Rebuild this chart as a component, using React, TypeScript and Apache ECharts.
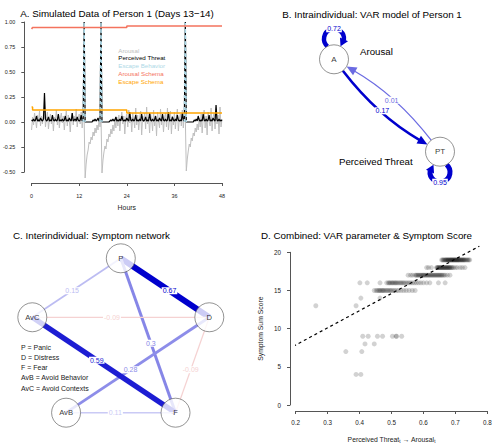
import React, { useEffect, useRef } from "react";
import * as echarts from "echarts";

const FONT = "'Liberation Sans', Arial, Helvetica, sans-serif";

// ---------- Panel A: simulated series, sampled every 15 minutes (values x100) ----------
const sampleStepHours = 0.25;
const arousalCenti = [
  -8, 5, -3, 9, 2, -6, 7, 0, 11, -4, 6, -2, 8,
  12,
  -5, 4, 10, -7, 3, 8, -2, 6, -9, 5, 1, 12, -3, 7, -6, 4, 9,
  -1, 6, -8, 3, 11, -4, 7, 2, -10, 5, 9, -3, 6, 0, 13, -5, 4, 8, -2, 10, -6, 5,
  3,
  -56, -42, -33, -28, -20, -22, -15, -18, -10, -14, -6, -11, -3, -8, 2, -5,
  4,
  -51, -38, -30, -24, -27, -17, -20, -12, -15, -7, -12, -3, -9, 3, -6, 5,
  -4, 7, -9, 3, 10, -2, 6, -12, 4, 8, -5, 12, -1, 5,
  -10, 9, 2, -6, 14, -3, 7, -8, 4, 11, -13, 6, 0, 9, -7, 15, -2, 5, -11, 8,
  3, -9, 12, -4, 6, -14, 10, 1, -6, 13, -3, 7, -10, 4, 9, -5, 14, -8, 2, 11,
  -12, 6, -3, 10, -7, 5, 13, -9, 3, 8, -4, 12, -6, 9,
  5, -49, -37, -29, -22, -25, -16, -19, -11, -14, -6, -10, -2, -8, 4, -5,
  8, -11, 3, 12, -6, 6, -13, 10, 1, -4, 14, -9, 5, 9, -7, 11, -2, 7, -12, 15, -5, 3,
];
const threatCenti = [
  2, 1, 3, 1, 2, 6, 1, 2, 1, 4, 2, 1, 3,
  29,
  3, 1, 2, 5, 1, 2, 1, 7, 2, 1, 3, 1, 2, 8, 1, 2, 1,
  3, 1, 2, 6, 1, 2, 1, 4, 2, 1, 9, 1, 2, 3, 1, 5, 2, 1, 2, 7, 1, 3,
  100,
  0, 0, 0, 0, 0, 0, 0, 0,
  2, 1, 3, 1, 2, 4, 1, 2,
  100,
  0, 0, 0, 0, 0, 0, 0, 0,
  1, 2, 1, 3, 1, 2, 5, 1,
  2, 1, 3, 1, 6, 2, 1, 2, 1, 4, 2, 1, 10, 2,
  1, 3, 1, 2, 7, 1, 2, 1, 3, 1, 8, 2, 1, 2, 5, 1, 2, 1, 9, 2,
  1, 3, 1, 2, 6, 1, 2, 1, 4, 2, 1, 8, 2, 1, 3, 1, 2, 10, 1, 2,
  1, 5, 2, 1, 3, 1, 7, 2, 1, 2, 1, 9, 2, 1,
  100,
  0, 0, 0, 0, 0, 0, 0, 0,
  2, 1, 3, 1, 6, 2, 1, 2, 1, 8, 2, 1, 3, 1, 2, 7, 1, 2, 1, 4, 2, 1, 17, 2, 1, 3, 1, 2, 1,
];
const escapeTimes = [13, 13.25, 13.5, 13.5, 17.25, 17.5, 17.75, 17.75, 38.5, 38.75, 39];
const escapeValues = [0, 1, 0, null, 0, 1, 0, null, 0, 1, 0];
const arousalSchemaTimes = [0, 0.25, 24, 24, 48];
const arousalSchemaValues = [0.93, 0.945, 0.945, 0.96, 0.96];
const escapeSchemaTimes = [0, 0.25, 0.25, 24, 24, 48];
const escapeSchemaValues = [0.15, 0.15, 0.12, 0.12, 0.09, 0.09];
const seriesANames = ["Arousal", "Perceived Threat", "Escape Behavior", "Arousal Schema", "Escape Schema"];

// ---------- Panel B: VAR network ----------
const varNodes = ["A", "PT"];
const varNodeNames = ["Arousal", "Perceived Threat"];
const varLayoutX = [-1, 1];
const varLayoutY = [1, -1];
const varFrom = [0, 1, 0, 1];
const varTo = [1, 0, 0, 1];
const varWeights = [0.17, 0.01, 0.72, 0.95];

// ---------- Panel C: symptom network ----------
const symNodes = ["P", "D", "F", "AvB", "AvC"];
const symLayoutX = [0, 0.951, 0.588, -0.588, -0.951];
const symLayoutY = [1, 0.309, -0.809, -0.809, 0.309];
const symFrom = [0, 0, 0, 1, 1, 1, 2, 2];
const symTo = [1, 2, 4, 4, 3, 2, 4, 3];
const symWeights = [0.67, 0.3, 0.15, -0.09, 0.28, -0.09, 0.59, 0.11];
const symLegend = ["P = Panic", "D = Distress", "F = Fear", "AvB = Avoid Behavior", "AvC = Avoid Contexts"];

// ---------- Panel D: VAR parameter vs symptom score ----------
const scoreLevels = [19, 18, 17, 16, 15, 14, 13, 9, 8, 7, 4];
const varParamsByScore = [
  [0.657, 0.66, 0.662, 0.665, 0.667, 0.67, 0.671, 0.673, 0.675, 0.677, 0.678, 0.68, 0.682, 0.684, 0.685, 0.687, 0.689, 0.69, 0.692, 0.694, 0.695, 0.697, 0.699, 0.7, 0.702, 0.704, 0.705, 0.707, 0.709, 0.71, 0.712, 0.714, 0.716, 0.718, 0.72, 0.722, 0.724, 0.726, 0.728, 0.73, 0.733, 0.736, 0.739, 0.742, 0.745],
  [0.61, 0.616, 0.625, 0.641, 0.643, 0.645, 0.647, 0.649, 0.651, 0.653, 0.655, 0.657, 0.659, 0.661, 0.663, 0.665, 0.667, 0.669, 0.671, 0.673, 0.675, 0.677, 0.679, 0.681, 0.683, 0.685, 0.688, 0.691, 0.694, 0.7, 0.706, 0.715, 0.722, 0.73],
  [0.552, 0.56, 0.566, 0.574, 0.577, 0.58, 0.583, 0.586, 0.589, 0.592, 0.595, 0.598, 0.6, 0.603, 0.606, 0.609, 0.612, 0.615, 0.618, 0.621, 0.624, 0.627, 0.63, 0.633, 0.636, 0.639, 0.642, 0.645, 0.648, 0.651, 0.654, 0.657, 0.66, 0.664, 0.668, 0.675, 0.683],
  [0.401, 0.424, 0.464, 0.485, 0.49, 0.493, 0.496, 0.5, 0.503, 0.506, 0.51, 0.513, 0.516, 0.52, 0.524, 0.528, 0.532, 0.536, 0.54, 0.545, 0.55, 0.555, 0.56, 0.566, 0.572, 0.578, 0.585, 0.592, 0.6, 0.61, 0.62, 0.647, 0.668],
  [0.446, 0.452, 0.456, 0.46, 0.463, 0.466, 0.47, 0.473, 0.476, 0.48, 0.484, 0.488, 0.492, 0.496, 0.5, 0.505, 0.51, 0.516, 0.522, 0.53, 0.538, 0.546, 0.555, 0.565, 0.574],
  [0.404, 0.464],
  [0.263, 0.389],
  [0.41, 0.427, 0.456, 0.472, 0.503, 0.514, 0.516, 0.532],
  [0.417, 0.446],
  [0.357, 0.407],
  [0.389, 0.404],
];
const regIntercept = 3.36;
const regSlope = 22.5;
const plotRegionX = [0.176, 0.824];
const plotRegionY = [-0.8, 20.8];

// ---------- styling helpers ----------
const AX = "#555";
const TXT = "#222";
const POS = [0, 0, 205];
const NEG = [200, 0, 0];
const blend = (rgb: number[], a: number) =>
  `rgb(${rgb.map((c) => Math.round(255 - a * (255 - c))).join(",")})`;
const symEdgeColor = (w: number) => blend(w >= 0 ? POS : NEG, Math.min(1, 0.05 + (Math.abs(w) / 0.67) * 0.95));
const symEdgeWidth = (w: number) => 0.5 + (Math.abs(w) / 0.67) * 5.5;
const varEdgeColor = (w: number) => blend(POS, Math.min(1, 0.55 + Math.abs(w) * 3));
const varEdgeWidth = (w: number) => 0.8 + 4.3 * Math.sqrt(Math.abs(w));
const NODE_R = 14.5;

const toward = (a: number[], b: number[], dist: number) => {
  const dx = b[0] - a[0], dy = b[1] - a[1];
  const L = Math.hypot(dx, dy) || 1;
  return [a[0] + (dx / L) * dist, a[1] + (dy / L) * dist];
};

const edgeLabel = (text: string, x: number, y: number, color: string) => ({
  type: "text",
  x,
  y,
  z2: 10,
  style: {
    text,
    fill: color,
    fontSize: 7,
    fontFamily: FONT,
    align: "center",
    verticalAlign: "middle",
    backgroundColor: "#fff",
    padding: [0, 1],
  },
});

function renderVarEdge(params: any, api: any) {
  const p1 = api.coord([api.value(0), api.value(1)]);
  const p2 = api.coord([api.value(2), api.value(3)]);
  const w = api.value(4);
  const color = varEdgeColor(w);
  const lw = varEdgeWidth(w);
  const arrowLen = 10, arrowHalf = 4.5;
  const arrow = (tip: number[], basePt: number[]) => {
    const dx = tip[0] - basePt[0], dy = tip[1] - basePt[1];
    const L = Math.hypot(dx, dy) || 1;
    const n = [-dy / L, dx / L];
    return {
      type: "polygon",
      z2: 2,
      shape: {
        points: [tip, [basePt[0] + n[0] * arrowHalf, basePt[1] + n[1] * arrowHalf], [basePt[0] - n[0] * arrowHalf, basePt[1] - n[1] * arrowHalf]],
      },
      style: { fill: color },
    };
  };
  if (Math.abs(p1[0] - p2[0]) < 0.01 && Math.abs(p1[1] - p2[1]) < 0.01) {
    const up = api.value(1) > 0 ? 1 : -1;
    const r = 10, d = NODE_R + 6;
    const cx = p1[0], cy = p1[1] - up * d;
    const base = up > 0 ? Math.PI / 2 : -Math.PI / 2;
    const phi = Math.acos((d * d + r * r - NODE_R * NODE_R) / (2 * d * r));
    const start = base + phi;
    const end = base - phi + 2 * Math.PI;
    const baseAng = end - 0.8;
    const tip = [cx + r * Math.cos(end), cy + r * Math.sin(end)];
    const basePt = [cx + r * Math.cos(baseAng), cy + r * Math.sin(baseAng)];
    return {
      type: "group",
      children: [
        {
          type: "arc",
          shape: { cx, cy, r, startAngle: start, endAngle: baseAng + 0.1, clockwise: true },
          style: { stroke: color, lineWidth: lw, fill: "none" },
        },
        arrow(tip, basePt),
        edgeLabel(String(w), cx, cy - up * r, color),
      ],
    };
  }
  const c = -0.1;
  const cp = [(p1[0] + p2[0]) / 2 - (p1[1] - p2[1]) * c, (p1[1] + p2[1]) / 2 - (p2[0] - p1[0]) * c];
  const s = toward(p1, cp, NODE_R);
  const tip = toward(p2, cp, NODE_R);
  const basePt = toward(tip, cp, arrowLen);
  const mx = 0.25 * p1[0] + 0.5 * cp[0] + 0.25 * p2[0];
  const my = 0.25 * p1[1] + 0.5 * cp[1] + 0.25 * p2[1];
  return {
    type: "group",
    children: [
      {
        type: "bezierCurve",
        shape: { x1: s[0], y1: s[1], x2: basePt[0] + (tip[0] - basePt[0]) * 0.2, y2: basePt[1] + (tip[1] - basePt[1]) * 0.2, cpx1: cp[0], cpy1: cp[1] },
        style: { stroke: color, lineWidth: lw, fill: "none" },
      },
      arrow(tip, basePt),
      edgeLabel(String(w), mx, my, color),
    ],
  };
}

function renderSymEdge(params: any, api: any) {
  const p1 = api.coord([api.value(0), api.value(1)]);
  const p2 = api.coord([api.value(2), api.value(3)]);
  const w = api.value(4);
  const color = symEdgeColor(w);
  const t = 0.55;
  return {
    type: "group",
    children: [
      {
        type: "line",
        z2: 1,
        shape: { x1: p1[0], y1: p1[1], x2: p2[0], y2: p2[1] },
        style: { stroke: color, lineWidth: symEdgeWidth(w) },
      },
      edgeLabel(String(w), p1[0] + (p2[0] - p1[0]) * t, p1[1] + (p2[1] - p1[1]) * t, color),
    ],
  };
}

const txt = (text: string, x: number, y: number, size: number, color = "#000", align = "left") => ({
  type: "text",
  x,
  y,
  silent: true,
  style: { text, fill: color, fontSize: size, fontFamily: FONT, align, verticalAlign: "middle" },
});

const visibleAxisCommon = (fontSize: number, margin: number) => ({
  axisLine: { show: true, onZero: false, lineStyle: { color: AX, width: 1 } },
  axisTick: { show: true, length: 3, lineStyle: { color: AX, width: 1 } },
  axisLabel: { fontSize, color: TXT, margin, fontFamily: FONT },
  splitLine: { show: false },
});

function buildOption() {
  const tA = arousalCenti.map((_, i) => i * sampleStepHours);
  const aColors = ["#bebebe", "#000000", "#add8e6", "#f4735e", "#ffa500"];

  const nodeStyle = {
    symbol: "circle",
    symbolSize: NODE_R * 2,
    itemStyle: { color: "#fff", borderColor: "#555", borderWidth: 0.8 },
    label: { show: true, position: "inside", formatter: "{b}", color: "#000", fontSize: 8, fontFamily: FONT },
    silent: true,
    clip: false,
    z: 3,
  };

  const scatterD: number[][] = [];
  scoreLevels.forEach((score, k) => varParamsByScore[k].forEach((x) => scatterD.push([x, score])));
  const regXEnd = Math.min(plotRegionX[1], (plotRegionY[1] - regIntercept) / regSlope);
  const regXStart = plotRegionX[0];

  return {
    animation: false,
    backgroundColor: "#fff",
    textStyle: { fontFamily: FONT },
    grid: [
      { left: 30, top: 22, width: 192, height: 150 },
      { left: 334, top: 59.3, width: 106, height: 92.4 },
      { left: 32.3, top: 258.3, width: 177, height: 154.4 },
      { left: 295.7, top: 252.3, width: 191.6, height: 155 },
    ],
    xAxis: [
      {
        gridIndex: 0, type: "value", min: 0, max: 48, interval: 12, offset: 11,
        ...visibleAxisCommon(5.4, 10),
        name: "Hours", nameLocation: "middle", nameGap: 20.5,
        nameTextStyle: { fontSize: 6.9, color: TXT, fontFamily: FONT },
      },
      { gridIndex: 1, type: "value", min: -1, max: 1, show: false },
      { gridIndex: 2, type: "value", min: -0.951, max: 0.951, show: false },
      {
        gridIndex: 3, type: "value", min: 0.2, max: 0.8, interval: 0.1, offset: 6,
        ...visibleAxisCommon(6.3, 8.5),
        axisLabel: { fontSize: 6.3, color: TXT, margin: 8.5, fontFamily: FONT, formatter: (v: number) => v.toFixed(1) },
        name: "{a|Perceived Threat}{s|t}{a| \u2192 Arousal}{s|t}",
        nameLocation: "middle", nameGap: 23,
        nameTextStyle: {
          fontFamily: FONT,
          rich: {
            a: { fontSize: 6.8, color: TXT, fontFamily: FONT, lineHeight: 10 },
            s: { fontSize: 4.6, color: TXT, fontFamily: FONT, lineHeight: 10, padding: [5, 0, 0, 0] },
          },
        },
      },
    ],
    yAxis: [
      {
        gridIndex: 0, type: "value", min: -0.5, max: 1, interval: 0.25, offset: 7.3,
        ...visibleAxisCommon(5.4, 9),
        axisLabel: { fontSize: 5.4, color: TXT, margin: 9, fontFamily: FONT, formatter: (v: number) => v.toFixed(2) },
      },
      { gridIndex: 1, type: "value", min: -1, max: 1, show: false },
      { gridIndex: 2, type: "value", min: -0.809, max: 1, show: false },
      {
        gridIndex: 3, type: "value", min: 0, max: 20, interval: 5, offset: 5.7,
        ...visibleAxisCommon(6.3, 9),
        name: "Symptom Sum Score", nameLocation: "middle", nameRotate: 90, nameGap: 26,
        nameTextStyle: { fontSize: 6.8, color: TXT, fontFamily: FONT },
      },
    ],
    series: [
      // ---- Panel A ----
      {
        name: seriesANames[0], type: "line", xAxisIndex: 0, yAxisIndex: 0, showSymbol: false, clip: false,
        data: arousalCenti.map((v, i) => [tA[i], v / 100]),
        lineStyle: { color: aColors[0], width: 1 }, z: 2,
      },
      {
        name: seriesANames[1], type: "line", xAxisIndex: 0, yAxisIndex: 0, showSymbol: false, clip: false,
        data: threatCenti.map((v, i) => [tA[i], v / 100]),
        lineStyle: { color: aColors[1], width: 1.2 }, z: 3,
      },
      {
        name: seriesANames[2], type: "line", xAxisIndex: 0, yAxisIndex: 0, showSymbol: false, clip: false,
        connectNulls: false,
        data: escapeTimes.map((t, i) => [t, escapeValues[i]]),
        lineStyle: { color: aColors[2], width: 1.5, type: [3, 3] }, z: 4,
      },
      {
        name: seriesANames[3], type: "line", xAxisIndex: 0, yAxisIndex: 0, showSymbol: false, clip: false,
        data: arousalSchemaTimes.map((t, i) => [t, arousalSchemaValues[i]]),
        lineStyle: { color: aColors[3], width: 1.5 }, z: 5,
      },
      {
        name: seriesANames[4], type: "line", xAxisIndex: 0, yAxisIndex: 0, showSymbol: false, clip: false,
        data: escapeSchemaTimes.map((t, i) => [t, escapeSchemaValues[i]]),
        lineStyle: { color: aColors[4], width: 1.5 }, z: 5,
      },
      // ---- Panel B ----
      {
        type: "custom", xAxisIndex: 1, yAxisIndex: 1, clip: false, silent: true, z: 1,
        data: varWeights.map((w, i) => [varLayoutX[varFrom[i]], varLayoutY[varFrom[i]], varLayoutX[varTo[i]], varLayoutY[varTo[i]], w]),
        encode: { x: [0, 2], y: [1, 3] },
        renderItem: renderVarEdge,
      },
      {
        type: "scatter", xAxisIndex: 1, yAxisIndex: 1, ...nodeStyle,
        data: varNodes.map((n, i) => ({ name: n, value: [varLayoutX[i], varLayoutY[i]] })),
      },
      // ---- Panel C ----
      {
        type: "custom", xAxisIndex: 2, yAxisIndex: 2, clip: false, silent: true, z: 1,
        data: symWeights.map((w, i) => [symLayoutX[symFrom[i]], symLayoutY[symFrom[i]], symLayoutX[symTo[i]], symLayoutY[symTo[i]], w]),
        encode: { x: [0, 2], y: [1, 3] },
        renderItem: renderSymEdge,
      },
      {
        type: "scatter", xAxisIndex: 2, yAxisIndex: 2, ...nodeStyle,
        label: { ...nodeStyle.label, fontSize: 7.6 },
        data: symNodes.map((n, i) => ({ name: n, value: [symLayoutX[i], symLayoutY[i]] })),
      },
      // ---- Panel D ----
      {
        type: "scatter", xAxisIndex: 3, yAxisIndex: 3, clip: false, silent: true,
        symbol: "circle", symbolSize: 5,
        itemStyle: { color: "rgba(0,0,0,0.22)" },
        data: scatterD, z: 2,
      },
      {
        type: "line", xAxisIndex: 3, yAxisIndex: 3, clip: false, silent: true, showSymbol: false,
        data: [
          [regXStart, regIntercept + regSlope * regXStart],
          [regXEnd, regIntercept + regSlope * regXEnd],
        ],
        lineStyle: { color: "#000", width: 1.2, type: [3, 3] }, z: 3,
      },
    ],
    graphic: [
      txt("A. Simulated Data of Person 1 (Days 13\u221214)", 117, 13, 9.8, "#000", "center"),
      txt("B. Intraindividual: VAR model of Person 1", 372, 14, 9.8, "#000", "center"),
      txt("C. Interindividual: Symptom network", 13, 235, 9.8),
      txt("D. Combined: VAR parameter & Symptom Score", 261, 235, 9.8),
      ...seriesANames.map((n, i) => txt(n, 118.3, 50 + i * 7.8, 6.2, aColors[i])),
      txt(varNodeNames[0], 360, 51, 9.7),
      txt(varNodeNames[1], 339, 161, 9.7),
      ...symLegend.map((s, i) => txt(s, 21, 347 + i * 10.3, 7, TXT)),
    ],
  };
}

export default function App() {
  const ref = useRef<HTMLDivElement>(null);
  useEffect(() => {
    if (!ref.current) return;
    const chart = echarts.init(ref.current, null, { renderer: "svg" });
    chart.setOption(buildOption() as any);
    return () => chart.dispose();
  }, []);
  return (
    <div
      ref={ref}
      style={{ position: "fixed", left: 0, top: 0, width: 500, height: 445, background: "#fff" }}
    />
  );
}
